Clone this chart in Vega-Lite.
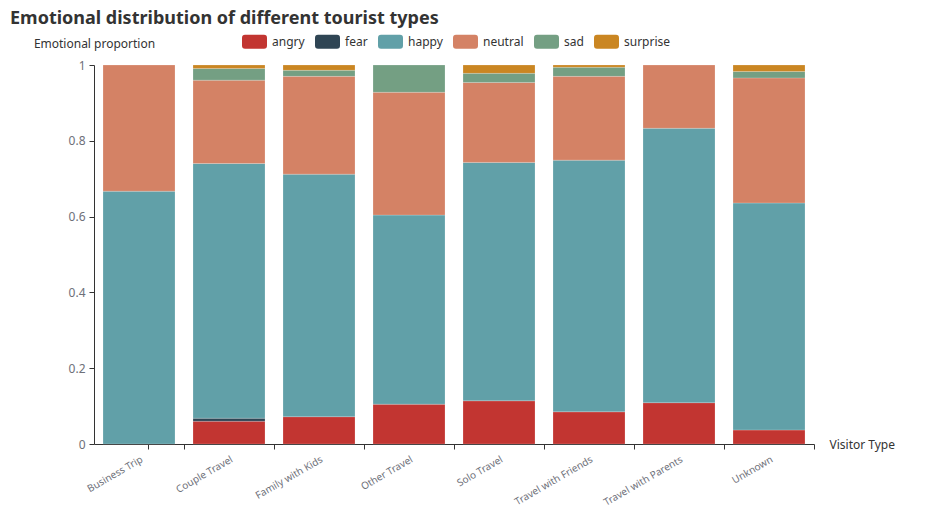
{
  "$schema": "https://vega.github.io/schema/vega-lite/v6.json",
  "autosize": {"type": "none"},
  "padding": {"left": 94, "top": 65, "right": 113, "bottom": 70},
  "width": 720,
  "height": 379,
  "background": "#ffffff",
  "title": {
    "text": "Emotional distribution of different tourist types",
    "anchor": "start",
    "frame": "group",
    "font": "Noto Sans",
    "fontSize": 18,
    "fontWeight": "bold",
    "color": "#333333",
    "dx": -84,
    "offset": 1
  },
  "config": {
    "view": {"stroke": null},
    "font": "Noto Sans"
  },
  "data": {
    "values": [
      {"type": "Business Trip", "emotion": "happy", "p": 0.667},
      {"type": "Business Trip", "emotion": "neutral", "p": 0.333},
      {"type": "Couple Travel", "emotion": "angry", "p": 0.060},
      {"type": "Couple Travel", "emotion": "fear", "p": 0.008},
      {"type": "Couple Travel", "emotion": "happy", "p": 0.672},
      {"type": "Couple Travel", "emotion": "neutral", "p": 0.220},
      {"type": "Couple Travel", "emotion": "sad", "p": 0.031},
      {"type": "Couple Travel", "emotion": "surprise", "p": 0.009},
      {"type": "Family with Kids", "emotion": "angry", "p": 0.072},
      {"type": "Family with Kids", "emotion": "happy", "p": 0.640},
      {"type": "Family with Kids", "emotion": "neutral", "p": 0.258},
      {"type": "Family with Kids", "emotion": "sad", "p": 0.016},
      {"type": "Family with Kids", "emotion": "surprise", "p": 0.014},
      {"type": "Other Travel", "emotion": "angry", "p": 0.105},
      {"type": "Other Travel", "emotion": "happy", "p": 0.499},
      {"type": "Other Travel", "emotion": "neutral", "p": 0.324},
      {"type": "Other Travel", "emotion": "sad", "p": 0.072},
      {"type": "Solo Travel", "emotion": "angry", "p": 0.114},
      {"type": "Solo Travel", "emotion": "happy", "p": 0.629},
      {"type": "Solo Travel", "emotion": "neutral", "p": 0.211},
      {"type": "Solo Travel", "emotion": "sad", "p": 0.024},
      {"type": "Solo Travel", "emotion": "surprise", "p": 0.022},
      {"type": "Travel with Friends", "emotion": "angry", "p": 0.085},
      {"type": "Travel with Friends", "emotion": "happy", "p": 0.664},
      {"type": "Travel with Friends", "emotion": "neutral", "p": 0.221},
      {"type": "Travel with Friends", "emotion": "sad", "p": 0.024},
      {"type": "Travel with Friends", "emotion": "surprise", "p": 0.006},
      {"type": "Travel with Parents", "emotion": "angry", "p": 0.109},
      {"type": "Travel with Parents", "emotion": "happy", "p": 0.724},
      {"type": "Travel with Parents", "emotion": "neutral", "p": 0.167},
      {"type": "Unknown", "emotion": "angry", "p": 0.037},
      {"type": "Unknown", "emotion": "happy", "p": 0.599},
      {"type": "Unknown", "emotion": "neutral", "p": 0.330},
      {"type": "Unknown", "emotion": "sad", "p": 0.017},
      {"type": "Unknown", "emotion": "surprise", "p": 0.017}
    ]
  },
  "mark": {"type": "bar", "stroke": "#ffffff", "strokeWidth": 0.5, "strokeOpacity": 0.4},
  "encoding": {
    "x": {
      "field": "type",
      "type": "nominal",
      "sort": null,
      "scale": {"paddingInner": 0.2, "paddingOuter": 0.1},
      "axis": {
        "title": "Visitor Type",
        "titleX": 735,
        "titleY": 0,
        "titleAlign": "left",
        "titleBaseline": "middle",
        "titleFontSize": 12,
        "titleFontWeight": "normal",
        "titleColor": "#333333",
        "tickOffset": 45,
        "labelOffset": -45,
        "tickExtra": true,
        "labelAngle": -30,
        "labelAlign": "right",
        "labelBaseline": "top",
        "labelFontSize": 10,
        "labelColor": "#6e7079",
        "labelPadding": 5,
        "domainColor": "#333333",
        "tickColor": "#333333",
        "tickSize": 5,
        "grid": false
      }
    },
    "y": {
      "field": "p",
      "type": "quantitative",
      "stack": "zero",
      "scale": {"domain": [0, 1], "nice": false},
      "axis": {
        "title": "Emotional proportion",
        "titleAngle": 0,
        "titleX": 0,
        "titleY": -22,
        "titleAlign": "center",
        "titleBaseline": "middle",
        "titleFontSize": 12,
        "titleFontWeight": "normal",
        "titleColor": "#333333",
        "values": [0, 0.2, 0.4, 0.6, 0.8, 1],
        "format": ".1~f",
        "labelFontSize": 12,
        "labelColor": "#6e7079",
        "labelPadding": 4,
        "domainColor": "#333333",
        "tickColor": "#333333",
        "tickSize": 5,
        "grid": false
      }
    },
    "order": {"field": "emotion", "sort": "ascending"},
    "color": {
      "field": "emotion",
      "type": "nominal",
      "scale": {
        "domain": ["angry", "fear", "happy", "neutral", "sad", "surprise"],
        "range": ["#c23531", "#2f4554", "#61a0a8", "#d48265", "#749f83", "#ca8622"]
      },
      "legend": {
        "title": null,
        "orient": "none",
        "direction": "horizontal",
        "legendX": 148,
        "legendY": -36,
        "symbolType": "M-0.76,-0.56H0.76Q1,-0.56,1,-0.32V0.32Q1,0.56,0.76,0.56H-0.76Q-1,0.56,-1,0.32V-0.32Q-1,-0.56,-0.76,-0.56Z",
        "symbolSize": 625,
        "symbolStrokeWidth": 0,
        "symbolOpacity": 1,
        "labelFontSize": 12,
        "labelColor": "#333333",
        "labelOffset": 5,
        "columnPadding": 10
      }
    }
  }
}
